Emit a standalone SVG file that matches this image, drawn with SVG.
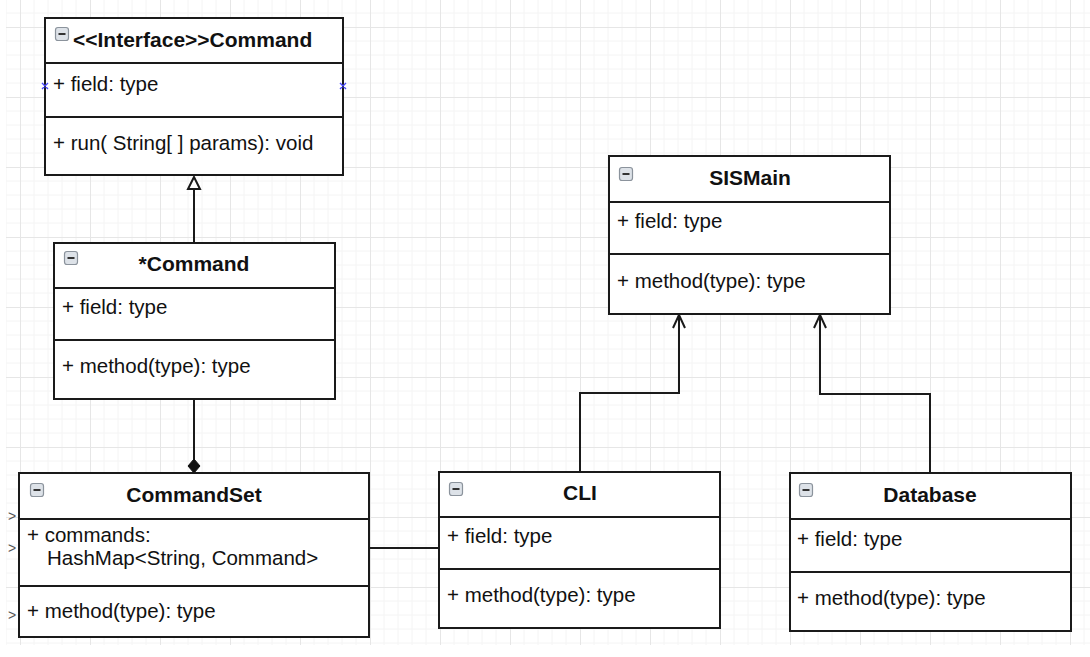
<svg xmlns="http://www.w3.org/2000/svg" width="1090" height="657" viewBox="0 0 1090 657">
<style>
.box{fill:#fff;stroke:#1a1a1a;stroke-width:2}
.div{stroke:#1a1a1a;stroke-width:2}
.t{font-family:"Liberation Sans",Arial,sans-serif;font-size:20.5px;fill:#111}
.b{font-family:"Liberation Sans",Arial,sans-serif;font-size:21px;font-weight:bold;fill:#111}
.ico{fill:#dde2e8;stroke:#8b939c;stroke-width:1.2}
.icm{stroke:#333;stroke-width:2}
.con{fill:none;stroke:#1a1a1a;stroke-width:2}
.mk{font-family:"Liberation Sans",Arial,sans-serif;font-size:14px;fill:#555}
</style>
<defs>
<pattern id="grid" patternUnits="userSpaceOnUse" x="20" y="27" width="70" height="70">
<path d="M14 0V70M28 0V70M42 0V70M56 0V70M0 14H70M0 28H70M0 42H70M0 56H70" stroke="#f4f4f4" stroke-width="1" fill="none"/>
<path d="M0.5 0V70M0 0.5H70" stroke="#e6e6e6" stroke-width="1" fill="none"/>
</pattern>
</defs>
<rect width="1090" height="657" fill="#fff"/>
<rect x="6" y="0" width="1084" height="645" fill="url(#grid)"/>

<g id="connectors">
<line class="con" x1="194" y1="243" x2="194" y2="189"/>
<polygon points="194,177 188,189 200,189" fill="#fff" stroke="#1a1a1a" stroke-width="2"/>
<line class="con" x1="194" y1="399" x2="194" y2="460"/>
<polygon points="194,459 200,466 194,473 188,466" fill="#111" stroke="#111" stroke-width="1"/>
<line class="con" x1="369" y1="548" x2="439" y2="548"/>
<polyline class="con" points="580,472 580,393 679,393 679,315"/>
<polyline class="con" points="673,328 679,315 685,328"/>
<polyline class="con" points="930,473 930,394 820,394 820,315"/>
<polyline class="con" points="814,328 820,315 826,328"/>
</g>

<g id="interface-command">
<rect class="box" x="45" y="18" width="298" height="157"/>
<line class="div" x1="45" y1="63" x2="343" y2="63"/>
<line class="div" x1="45" y1="117" x2="343" y2="117"/>
<rect class="ico" x="55.5" y="27.5" width="13" height="13" rx="2.5"/>
<line class="icm" x1="58.5" y1="34" x2="65.5" y2="34"/>
<text class="b" x="73" y="47">&lt;&lt;Interface&gt;&gt;Command</text>
<text class="t" x="53" y="91">+ field: type</text>
<text class="t" x="53" y="150">+ run( String[ ] params): void</text>
<path d="M42 83l6 6M48 83l-6 6M340 83l6 6M346 83l-6 6" stroke="#4a4aff" stroke-width="1.4"/>
</g>

<g id="star-command">
<rect class="box" x="54" y="243" width="281" height="156"/>
<line class="div" x1="54" y1="288" x2="335" y2="288"/>
<line class="div" x1="54" y1="340" x2="335" y2="340"/>
<rect class="ico" x="64.5" y="251.5" width="13" height="13" rx="2.5"/>
<line class="icm" x1="67.5" y1="258" x2="74.5" y2="258"/>
<text class="b" x="194" y="271" text-anchor="middle">*Command</text>
<text class="t" x="62" y="314">+ field: type</text>
<text class="t" x="62" y="373">+ method(type): type</text>
</g>

<g id="commandset">
<rect class="box" x="19" y="473" width="350" height="164"/>
<line class="div" x1="19" y1="519" x2="369" y2="519"/>
<line class="div" x1="19" y1="586" x2="369" y2="586"/>
<rect class="ico" x="30.5" y="483.5" width="13" height="13" rx="2.5"/>
<line class="icm" x1="33.5" y1="490" x2="40.5" y2="490"/>
<text class="b" x="194" y="502" text-anchor="middle">CommandSet</text>
<text class="t" x="27" y="542">+ commands:</text>
<text class="t" x="47" y="565">HashMap&lt;String, Command&gt;</text>
<text class="t" x="27" y="618">+ method(type): type</text>
<text class="mk" x="8" y="521">&gt;</text>
<text class="mk" x="8" y="553">&gt;</text>
<text class="mk" x="8" y="620">&gt;</text>
</g>

<g id="cli">
<rect class="box" x="439" y="472" width="281" height="156"/>
<line class="div" x1="439" y1="517" x2="720" y2="517"/>
<line class="div" x1="439" y1="569" x2="720" y2="569"/>
<rect class="ico" x="449.5" y="482.5" width="13" height="13" rx="2.5"/>
<line class="icm" x1="452.5" y1="489" x2="459.5" y2="489"/>
<text class="b" x="580" y="500" text-anchor="middle">CLI</text>
<text class="t" x="447" y="543">+ field: type</text>
<text class="t" x="447" y="602">+ method(type): type</text>
</g>

<g id="sismain">
<rect class="box" x="609" y="156" width="281" height="158"/>
<line class="div" x1="609" y1="202" x2="890" y2="202"/>
<line class="div" x1="609" y1="254" x2="890" y2="254"/>
<rect class="ico" x="619.5" y="167.5" width="13" height="13" rx="2.5"/>
<line class="icm" x1="622.5" y1="174" x2="629.5" y2="174"/>
<text class="b" x="750" y="185" text-anchor="middle">SISMain</text>
<text class="t" x="617" y="228">+ field: type</text>
<text class="t" x="617" y="288">+ method(type): type</text>
</g>

<g id="database">
<rect class="box" x="790" y="473" width="281" height="158"/>
<line class="div" x1="790" y1="519" x2="1071" y2="519"/>
<line class="div" x1="790" y1="572" x2="1071" y2="572"/>
<rect class="ico" x="799.5" y="483.5" width="13" height="13" rx="2.5"/>
<line class="icm" x1="802.5" y1="490" x2="809.5" y2="490"/>
<text class="b" x="930" y="502" text-anchor="middle">Database</text>
<text class="t" x="797" y="546">+ field: type</text>
<text class="t" x="797" y="605">+ method(type): type</text>
</g>
</svg>
